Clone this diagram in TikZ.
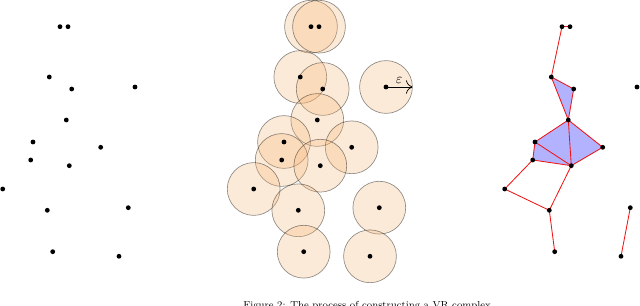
\documentclass[tikz,border=0pt]{standalone}
\usepackage{amsmath}
\usetikzlibrary{arrows.meta}
\definecolor{ballfill}{RGB}{245,180,115}
\definecolor{simplexfill}{RGB}{178,178,255}
\definecolor{edgered}{RGB}{240,20,20}
\tikzset{
  pt/.style       = {circle, fill=black, inner sep=0pt, minimum size=1.2mm},
  ball/.style     = {fill=ballfill, fill opacity=0.28, draw=black, draw opacity=0.45, line width=0.45pt},
  simplex/.style  = {fill=simplexfill},
  edge/.style     = {draw=edgered, line width=0.6pt},
  epsarrow/.style = {-{To[length=1.6mm]}, line width=0.5pt},
  caption/.style  = {font=\footnotesize, scale=0.9, transform shape, inner sep=0pt},
}

\begin{document}
\begin{tikzpicture}[x=0.025cm,y=-0.025cm]
  \useasboundingbox (0,0) rectangle (640,306);
  % point cloud, copied into the three panels
  \foreach \px/\py [count=\i] in {60/26.7, 68/26.7, 49.3/77, 71.7/89, 135/87,
      66.3/120, 33/142, 100.7/147.3, 30.7/160, 69.3/165.7, 2.7/189,
      47.3/210.3, 128.3/207.7, 52.7/251.7, 119/256.3} {
    \coordinate (l\i) at (\px,\py);
    \coordinate (m\i) at (\px+251,\py);
    \coordinate (r\i) at (\px+502,\py);
  }
  % left: points
  \foreach \i in {1,...,15} \node[pt] (ldot\i) at (l\i) {};
  % middle: balls of radius epsilon
  \foreach \i in {1,...,15} \path[ball] (m\i) circle[radius=0.66cm];
  \foreach \i in {1,...,15} \node[pt] (mdot\i) at (m\i) {};
  \coordinate (epstip) at (412.4,87);
  \draw[epsarrow] (mdot5.center) -- (epstip) node[midway, above=-1pt] (eps) {$\varepsilon$};
  % right: VR complex
  \foreach \a/\b/\c in {3/4/6, 6/7/10, 6/8/10, 7/9/10}
    \fill[simplex] (r\a) -- (r\b) -- (r\c) -- cycle;
  \foreach \a/\b in {1/2, 1/3, 3/4, 3/6, 4/6, 6/7, 6/8, 6/10, 7/9, 7/10,
      9/10, 8/10, 9/11, 11/12, 10/12, 12/14, 13/15}
    \draw[edge] (r\a) -- (r\b);
  \foreach \i in {1,...,15} \node[pt] (rdot\i) at (r\i) {};
  % caption, cut by the page edge
  \node[caption, anchor=base west] (cap) at (243,309)
    {Figure 2: The process of constructing a VR complex};
\end{tikzpicture}
\end{document}
